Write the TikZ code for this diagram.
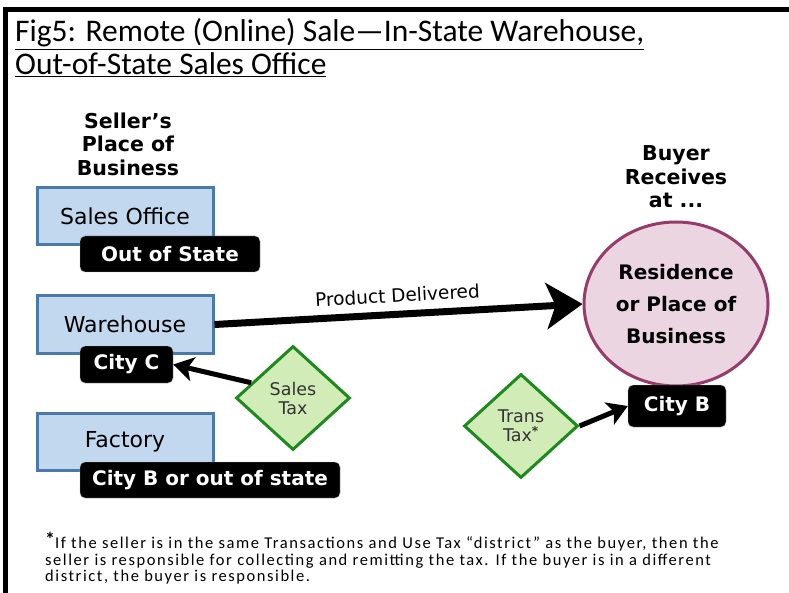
\documentclass[tikz,border=0pt]{standalone}
\usepackage{fontspec}
\setmainfont{DejaVu Sans}
\newfontfamily\titlefont{Carlito}
\newfontfamily\fnfont[LetterSpace=9.5]{Carlito}
\usetikzlibrary{shapes.geometric,arrows.meta}
\definecolor{boxfill}{HTML}{C2D8EE}
\definecolor{boxline}{HTML}{4A7AAA}
\definecolor{dfill}{HTML}{D2ECB8}
\definecolor{dline}{HTML}{1D8A1D}
\definecolor{cfill}{HTML}{EAD5E1}
\definecolor{cline}{HTML}{973A6C}
\tikzset{
  place/.style={draw=boxline, fill=boxfill, line width=3pt, minimum width=176pt, minimum height=57pt, font=\fontsize{22}{26}\selectfont, inner sep=0pt},
  tag/.style={draw=gray!60, fill=black, text=white, rounded corners=5pt, font=\bfseries\fontsize{20}{24}\selectfont, inner sep=0pt, minimum height=36pt},
  tax/.style={diamond, draw=dline, fill=dfill, line width=3pt, aspect=1.1, minimum width=114pt, minimum height=104pt, inner sep=0pt, align=center, text=black!80, font=\fontsize{17.5}{19}\selectfont},
  head/.style={align=center, font=\bfseries\fontsize{20.5}{23.5}\selectfont},
  bigarrow/.style={line width=7pt, -{Stealth[length=36pt, width=46pt, inset=9pt]}},
  thinarrow/.style={line width=5pt, -{Stealth[length=20pt, width=24pt, inset=5pt]}}
}
\begin{document}
\begin{tikzpicture}[x=1pt,y=-1pt]
\useasboundingbox (0,0) rectangle (789,593);
\fill[white] (0,0) rectangle (789,593);
% frame
\draw[line width=5pt] (5.5,593) -- (5.5,10) -- (789,10);
% title
\node[anchor=base west, inner sep=0pt, font=\titlefont\fontsize{31.5}{31.5}\selectfont] (t1) at (15,42) {\underline{Fig5: Remote (Online) Sale—In-State Warehouse,}};
\node[anchor=base west, inner sep=0pt, font=\titlefont\fontsize{31.5}{31.5}\selectfont] (t2) at (15,75) {\underline{Out-of-State Sales Office}};
% headings
\node[head] (sh) at (128,144) {Seller’s\\Place of\\Business};
\node[head] (bh) at (676,177) {Buyer\\Receives\\at ...};
% seller places
\node[place] (so) at (125,216.5) {Sales Office};
\node[tag, minimum width=180pt] (oos) at (170,254) {Out of State};
\node[place] (wh) at (125,324.5) {Warehouse};
\node[tag, minimum width=93pt, minimum height=37pt] (cc) at (126.5,364.5) {City C};
\node[place] (fa) at (125,441.5) {Factory};
\node[tag, minimum width=260pt] (cb) at (210,480) {City B or out of state};
% buyer
\node[ellipse, draw=cline, fill=cfill, line width=3pt, minimum width=184pt, minimum height=164pt, align=center, font=\bfseries\fontsize{20}{32}\selectfont, inner sep=0pt] (res) at (676,304) {Residence\\or Place of\\Business};
\node[tag, minimum width=98pt, minimum height=42pt] (cityb) at (677,406) {City B};
% taxes
\node[tax] (st) at (293,398) {Sales\\Tax};
\node[tax] (tt) at (521,426) {Trans\\Tax\textsuperscript{\bfseries *}};
% connectors
\draw[bigarrow] (wh.east) -- node[above=5pt, sloped, font=\fontsize{18.5}{18.5}\selectfont] (pd) {Product Delivered} (res.west);
\draw[thinarrow] (st.160) -- (cc.east);
\draw[thinarrow] (tt.east) -- (cityb.west);
% footnote
\node[anchor=north west, align=left, inner sep=0pt, font=\fnfont\fontsize{16.5}{16.5}\selectfont] (fn) at (45,532) {\raisebox{2pt}{\bfseries\fontsize{20}{20}\selectfont *}If the seller is in the same Transactions and Use Tax “district” as the buyer, then the\\seller is responsible for collecting and remitting the tax. If the buyer is in a different\\district, the buyer is responsible.};
\end{tikzpicture}
\end{document}
